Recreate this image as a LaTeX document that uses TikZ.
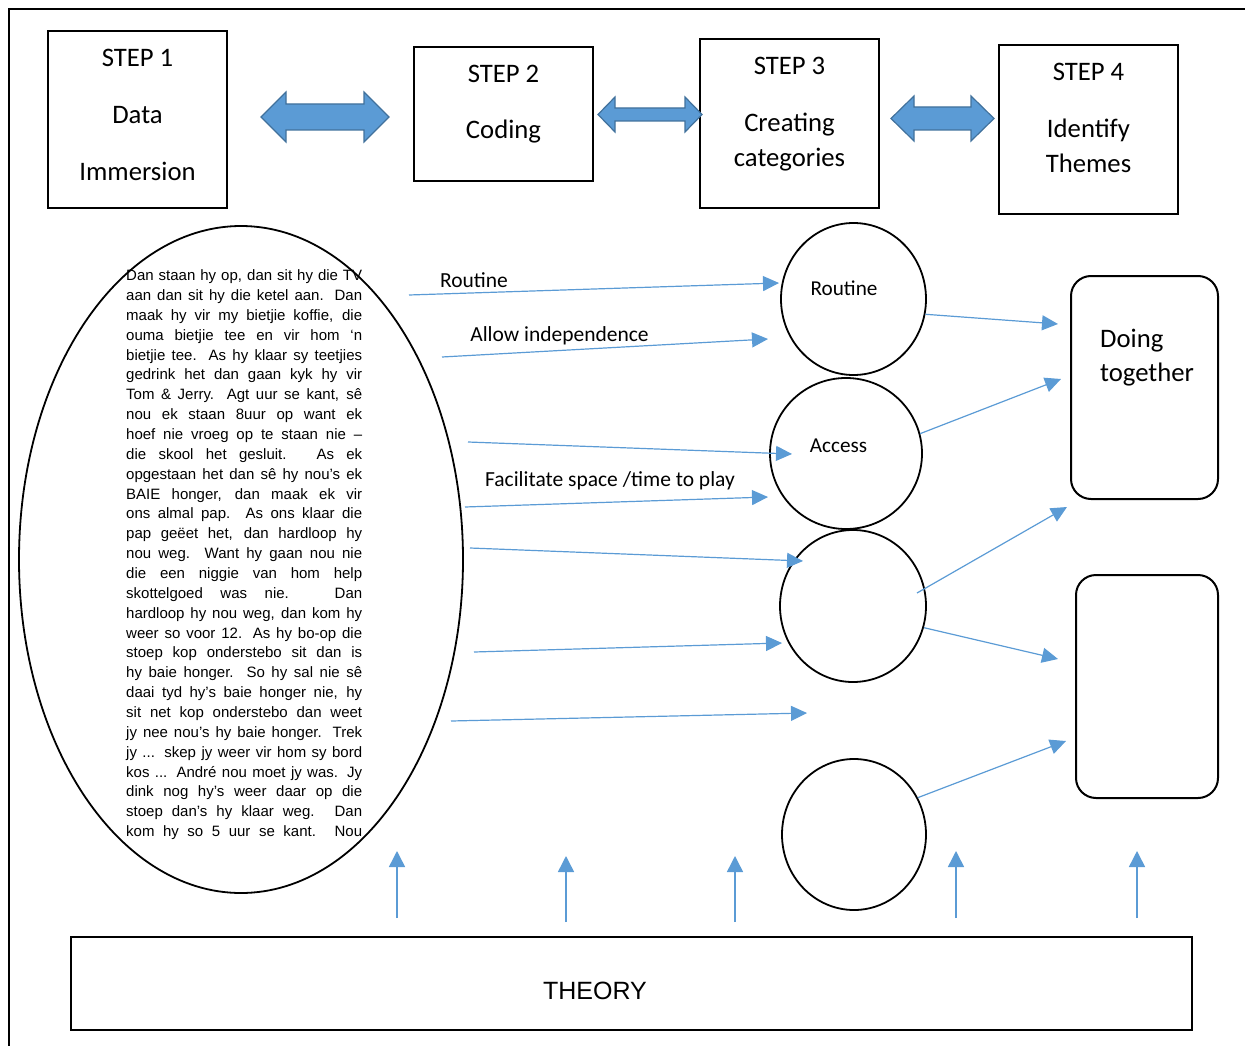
\documentclass[tikz,border=0pt]{standalone}
\usepackage{fontspec}
\setmainfont{Carlito}
\newfontfamily\arialfont{Liberation Sans}
\usetikzlibrary{shapes.geometric,arrows.meta,positioning}

\definecolor{linkblue}{HTML}{5B9BD5}
\definecolor{arrowedge}{HTML}{41719C}

\begin{document}
\begin{tikzpicture}[x=1pt, y=-1pt,
    stepbox/.style={draw, rectangle, line width=1.6pt, inner sep=0pt, minimum width=179pt},
    steptxt/.style={inner sep=0pt, align=center, font=\fontsize{26.7}{35}\selectfont},
    dblarrow/.style={fill=linkblue, draw=arrowedge, line width=1.2pt},
    catnode/.style={draw, ellipse, line width=1.8pt, minimum width=145pt, minimum height=152pt, inner sep=0pt},
    cattxt/.style={anchor=base, inner sep=0pt, font=\fontsize{21.2}{25}\selectfont},
    themebox/.style={draw, rectangle, rounded corners=20pt, line width=2pt, inner sep=0pt, minimum height=223pt},
    lbl/.style={anchor=base, inner sep=0pt, font=\fontsize{21.5}{25}\selectfont},
    flow/.style={draw=linkblue, line width=1.2pt, -{Triangle[length=16pt,width=15pt]}},
    upflow/.style={draw=linkblue, line width=1.5pt, -{Triangle[length=16pt,width=16pt]}}
]
\useasboundingbox (0,0) rectangle (1245,1046);

% Frame
\draw[line width=2.4pt] (9,1046) -- (9,9) -- (1245,9);

% Steps
\node[stepbox, minimum height=177pt] (step1) at (137.5,119.5) {};
\node[stepbox, minimum height=134pt] (step2) at (503.5,114) {};
\node[stepbox, minimum height=169pt] (step3) at (789.5,123.5) {};
\node[stepbox, minimum height=169pt] (step4) at (1088.5,129.5) {};

\node[steptxt, below=19pt of step1.north] (step1txt) {STEP 1\\[22pt]Data\\[22pt]Immersion};
\node[steptxt, below=19pt of step2.north] (step2txt) {STEP 2\\[21pt]Coding};
\node[steptxt, below=19pt of step3.north] (step3txt) {STEP 3\\[22pt]Creating\\categories};
\node[steptxt, below=19pt of step4.north] (step4txt) {STEP 4\\[22pt]Identify\\Themes};

% Double arrows between steps
\draw[dblarrow] (261,117) -- (286,92) -- (286,104) -- (364,104) -- (364,92) -- (389,117)
    -- (364,142) -- (364,130) -- (286,130) -- (286,142) -- cycle;
\draw[dblarrow] (598,114.5) -- (615,97) -- (615,108) -- (685,108) -- (685,97) -- (702,114.5)
    -- (685,132) -- (685,121) -- (615,121) -- (615,132) -- cycle;
\draw[dblarrow] (891,118.5) -- (914,96) -- (914,107) -- (971,107) -- (971,96) -- (994,118.5)
    -- (971,141) -- (971,130) -- (914,130) -- (914,141) -- cycle;

% Data extract
\node[draw, ellipse, line width=1.8pt, minimum width=444pt, minimum height=667pt, inner sep=0pt] (data) at (241,559.5) {};
\node[anchor=north west, inner sep=0pt] (transcript) at (126,269.5) {\parbox[t]{236pt}{%
\arialfont\fontsize{15}{19.86}\selectfont
\makebox[236pt][s]{Dan staan hy op, dan sit hy die TV}\\
\makebox[236pt][s]{aan dan sit hy die ketel aan.  Dan}\\
\makebox[236pt][s]{maak hy vir my bietjie koffie, die}\\
\makebox[236pt][s]{ouma bietjie tee en vir hom ‘n}\\
\makebox[236pt][s]{bietjie tee.  As hy klaar sy teetjies}\\
\makebox[236pt][s]{gedrink het dan gaan kyk hy vir}\\
\makebox[236pt][s]{Tom \& Jerry.  Agt uur se kant, sê}\\
\makebox[236pt][s]{nou ek staan 8uur op want ek}\\
\makebox[236pt][s]{hoef nie vroeg op te staan nie –}\\
\makebox[236pt][s]{die skool het gesluit.  As ek}\\
\makebox[236pt][s]{opgestaan het dan sê hy nou’s ek}\\
\makebox[236pt][s]{BAIE honger, dan maak ek vir}\\
\makebox[236pt][s]{ons almal pap.  As ons klaar die}\\
\makebox[236pt][s]{pap geëet het, dan hardloop hy}\\
\makebox[236pt][s]{nou weg.  Want hy gaan nou nie}\\
\makebox[236pt][s]{die een niggie van hom help}\\
\makebox[236pt][s]{skottelgoed was nie.  Dan}\\
\makebox[236pt][s]{hardloop hy nou weg, dan kom hy}\\
\makebox[236pt][s]{weer so voor 12.  As hy bo-op die}\\
\makebox[236pt][s]{stoep kop onderstebo sit dan is}\\
\makebox[236pt][s]{hy baie honger. So hy sal nie sê}\\
\makebox[236pt][s]{daai tyd hy’s baie honger nie, hy}\\
\makebox[236pt][s]{sit net kop onderstebo dan weet}\\
\makebox[236pt][s]{jy nee nou’s hy baie honger.  Trek}\\
\makebox[236pt][s]{jy ... skep jy weer vir hom sy bord}\\
\makebox[236pt][s]{kos ... André nou moet jy was.  Jy}\\
\makebox[236pt][s]{dink nog hy’s weer daar op die}\\
\makebox[236pt][s]{stoep dan’s hy klaar weg.  Dan}\\
\makebox[236pt][s]{kom hy so 5 uur se kant.  Nou}}};

% Categories
\node[catnode] (routine) at (853.5,299) {};
\node[catnode, minimum width=152pt, minimum height=151pt] (access) at (846,453.5) {};
\node[catnode, minimum width=146pt] (cat3) at (853,606) {};
\node[catnode, minimum width=144pt, minimum height=151pt] (cat4) at (854,834.5) {};
\node[cattxt] (routinetxt) at (844,295) {Routine};
\node[cattxt] (accesstxt) at (838.5,452) {Access};

% Themes
\node[themebox, minimum width=147pt] (theme1) at (1144.5,387.5) {};
\node[themebox, minimum width=142pt] (theme2) at (1147,686.5) {};
\node[anchor=north west, inner sep=0pt, align=left, font=\fontsize{26.7}{34}\selectfont] (theme1txt) at (1100,329) {Doing\\together};

% Theory
\node[draw, rectangle, line width=2pt, minimum width=1121pt, minimum height=93pt, inner sep=0pt] (theory) at (631.5,983.5) {};
\node[anchor=base, inner sep=0pt, font=\arialfont\fontsize{25}{30}\selectfont] (theorytxt) at (595,999) {THEORY};

% Arrow end points
\coordinate (in1) at (409,295);  \coordinate (to1) at (779,283);
\coordinate (in2) at (442,357);  \coordinate (to2) at (768,339);
\coordinate (in3) at (468,442);  \coordinate (to3) at (792,454);
\coordinate (in4) at (465,507);  \coordinate (to4) at (768,497);
\coordinate (in5) at (470,548);  \coordinate (to5) at (803,561);
\coordinate (in6) at (474,652);  \coordinate (to6) at (782,643);
\coordinate (in7) at (451,721);  \coordinate (to7) at (807,713);
\coordinate (fr3) at (917,593);
\coordinate (th1) at (1058,324);
\coordinate (th2) at (1061,379);
\coordinate (th3) at (1067,507);
\coordinate (th4) at (1058,659);
\coordinate (th5) at (1066,741);
\coordinate (tb1) at (397,918);  \coordinate (up1) at (397,851);
\coordinate (tb2) at (566,922);  \coordinate (up2) at (566,856);
\coordinate (tb3) at (735,922);  \coordinate (up3) at (735,856);
\coordinate (tb4) at (956,918);  \coordinate (up4) at (956,851);
\coordinate (tb5) at (1137,918); \coordinate (up5) at (1137,851);

% Data to categories
\draw[flow] (in1) -- (to1);
\draw[flow] (in2) -- (to2);
\draw[flow] (in3) -- (to3);
\draw[flow] (in4) -- (to4);
\draw[flow] (in5) -- (to5);
\draw[flow] (in6) -- (to6);
\draw[flow] (in7) -- (to7);
\node[lbl] (lblroutine) at (474,287) {Routine};
\node[lbl] (lblallow) at (559.5,341) {Allow independence};
\node[lbl] (lblplay) at (610,486) {Facilitate space /time to play};

% Categories to themes
\draw[flow] (routine.-12) -- (th1);
\draw[flow] (access.15) -- (th2);
\draw[flow] (fr3) -- (th3);
\draw[flow] (cat3.-17) -- (th4);
\draw[flow] (cat4.30) -- (th5);

% Theory feeds in
\draw[upflow] (tb1) -- (up1);
\draw[upflow] (tb2) -- (up2);
\draw[upflow] (tb3) -- (up3);
\draw[upflow] (tb4) -- (up4);
\draw[upflow] (tb5) -- (up5);

\end{tikzpicture}
\end{document}
